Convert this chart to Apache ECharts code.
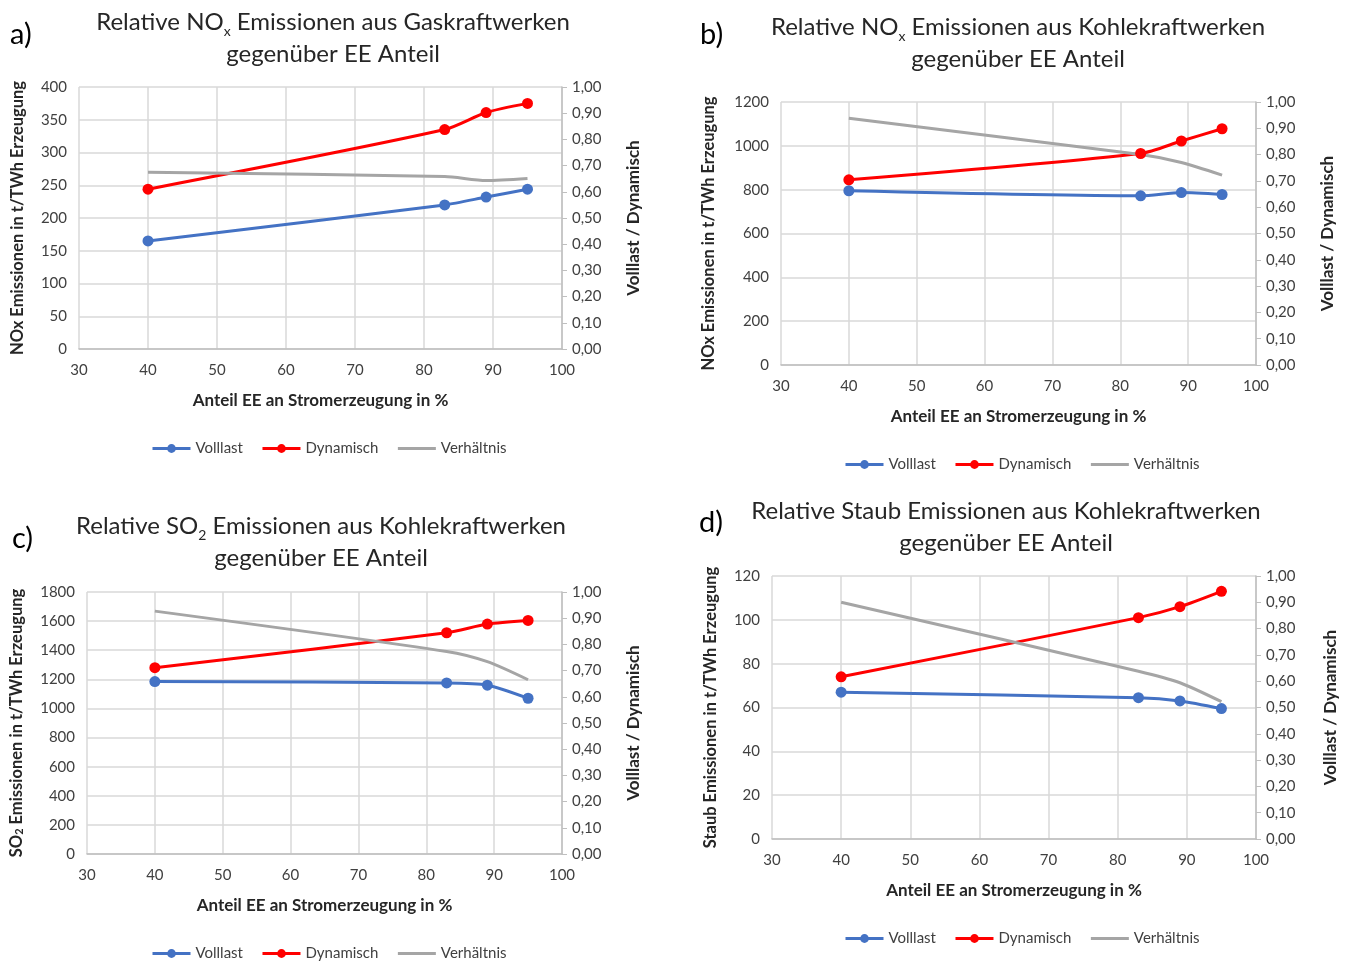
<!DOCTYPE html>
<html>
<head>
<meta charset="utf-8">
<script src="https://cdn.jsdelivr.net/npm/echarts@6/dist/echarts.min.js"></script>
<style>
  html, body { margin: 0; padding: 0; background: #fff; }
  #chart { width: 1347px; height: 961px; }
</style>
</head>
<body>
<div id="chart"></div>
<script>
// Anteil EE an Stromerzeugung in %
const anteilEE = [40, 83, 89, 95];

// a) NOx Gaskraftwerke
const noxGasVolllast = [165, 220, 232, 244];
const noxGasDynamisch = [244, 335, 361, 375];
const noxGasVerhaeltnis = [0.675, 0.658, 0.643, 0.651];

// b) NOx Kohlekraftwerke
const noxKohleVolllast = [795, 772, 787, 778];
const noxKohleDynamisch = [845, 965, 1022, 1078];
const noxKohleVerhaeltnis = [0.938, 0.800, 0.770, 0.722];

// c) SO2 Kohlekraftwerke
const so2Volllast = [1185, 1175, 1160, 1070];
const so2Dynamisch = [1280, 1520, 1580, 1605];
const so2Verhaeltnis = [0.927, 0.773, 0.734, 0.665];

// d) Staub Kohlekraftwerke
const staubVolllast = [67, 64.5, 63, 59.5];
const staubDynamisch = [74, 101, 106, 113];
const staubVerhaeltnis = [0.900, 0.638, 0.594, 0.522];

// Achsen
const xTicks = { min: 30, max: 100, interval: 10 };
const rightTicks = { min: 0, max: 1, interval: 0.1 };

const FONT = 'Lato, "Open Sans", sans-serif';
const BLUE = '#4472C4', RED = '#FF0000', GREY = '#A5A5A5';

const panels = [
    {
        tag: 'a)', tagX: 10, tagY: 20,
        title: 'Relative NO{sub|x} Emissionen aus Gaskraftwerken\ngegenüber EE Anteil',
        titleX: 328, titleY: 1,
        yName: 'NOx Emissionen in t/TWh Erzeugung',
        grid: { left: 79, top: 87, width: 483, height: 262 },
        yMax: 400, yInt: 50, yGap: 53, rGap: 63,
        legendX: 146, legendY: 436,
        v: noxGasVolllast, d: noxGasDynamisch, r: noxGasVerhaeltnis
    },
    {
        tag: 'b)', tagX: 700, tagY: 20,
        title: 'Relative NO{sub|x} Emissionen aus Kohlekraftwerken\ngegenüber EE Anteil',
        titleX: 1013, titleY: 6,
        yName: 'NOx Emissionen in t/TWh Erzeugung',
        grid: { left: 781, top: 102, width: 475, height: 263 },
        yMax: 1200, yInt: 200, yGap: 64, rGap: 63,
        legendX: 839, legendY: 452,
        v: noxKohleVolllast, d: noxKohleDynamisch, r: noxKohleVerhaeltnis
    },
    {
        tag: 'c)', tagX: 12, tagY: 524,
        title: 'Relative SO{sub|2} Emissionen aus Kohlekraftwerken\ngegenüber EE Anteil',
        titleX: 316, titleY: 505,
        yName: 'SO{sub2|2} Emissionen in t/TWh Erzeugung',
        grid: { left: 87, top: 592, width: 475, height: 262 },
        yMax: 1800, yInt: 200, yGap: 62, rGap: 63,
        legendX: 146, legendY: 941,
        v: so2Volllast, d: so2Dynamisch, r: so2Verhaeltnis
    },
    {
        tag: 'd)', tagX: 699, tagY: 508,
        title: 'Relative Staub Emissionen aus Kohlekraftwerken\ngegenüber EE Anteil',
        titleX: 1001, titleY: 490,
        yName: 'Staub Emissionen in t/TWh Erzeugung',
        grid: { left: 772, top: 576, width: 484, height: 263 },
        yMax: 120, yInt: 20, yGap: 53, rGap: 66,
        legendX: 839, legendY: 926,
        v: staubVolllast, d: staubDynamisch, r: staubVerhaeltnis
    }
];

const pairs = arr => arr.map((y, i) => [anteilEE[i], y]);

const option = {
    animation: false,
    backgroundColor: '#fff',
    textStyle: { fontFamily: FONT },
    title: [],
    legend: [],
    grid: [],
    xAxis: [],
    yAxis: [],
    series: [],
    graphic: []
};

panels.forEach((p, i) => {
    const sp = ' '.repeat(i); // eindeutige Seriennamen je Diagramm
    option.title.push({
        text: p.title,
        left: p.titleX,
        top: p.titleY,
        textAlign: 'center',
        textStyle: {
            fontFamily: FONT, fontSize: 24, fontWeight: 'normal', color: '#262626', lineHeight: 32,
            rich: {
                sub: { fontFamily: FONT, fontSize: 14, color: '#262626', verticalAlign: 'bottom', lineHeight: 24 }
            }
        }
    });
    option.graphic.push({
        type: 'text', left: p.tagX, top: p.tagY,
        style: { text: p.tag, font: '29px ' + FONT, fill: '#000' }
    });
    option.grid.push(Object.assign({ containLabel: false }, p.grid));
    option.legend.push({
        left: p.legendX, top: p.legendY,
        itemWidth: 38, itemHeight: 11, itemGap: 18,
        lineStyle: { width: 3 },
        textStyle: { fontFamily: FONT, fontSize: 15, color: '#404040' },
        data: [
            { name: 'Volllast' + sp },
            { name: 'Dynamisch' + sp },
            { name: 'Verhältnis' + sp, itemStyle: { opacity: 0 } }
        ],
        formatter: n => n.trim()
    });
    option.xAxis.push({
        gridIndex: i, type: 'value',
        min: xTicks.min, max: xTicks.max, interval: xTicks.interval,
        name: 'Anteil EE an Stromerzeugung in %',
        nameLocation: 'middle', nameGap: 43,
        nameTextStyle: { fontFamily: FONT, fontSize: 17, fontWeight: 'bold', color: '#262626' },
        axisLine: { show: true, lineStyle: { color: '#BFBFBF', width: 1.5 } },
        axisTick: { show: false },
        axisLabel: { fontSize: 15, color: '#404040', margin: 14 },
        splitLine: { show: true, lineStyle: { color: '#D9D9D9', width: 1.5 } }
    });
    option.yAxis.push({
        gridIndex: i, type: 'value', position: 'left',
        min: 0, max: p.yMax, interval: p.yInt,
        name: p.yName,
        nameLocation: 'middle', nameGap: p.yGap,
        nameTextStyle: {
            fontFamily: FONT, fontSize: 16.5, fontWeight: 'bold', color: '#262626',
            rich: { sub2: { fontFamily: FONT, fontSize: 11, fontWeight: 'bold', color: '#262626', verticalAlign: 'bottom' } }
        },
        axisLine: { show: false },
        axisTick: { show: false },
        axisLabel: { fontSize: 15, color: '#404040', margin: 12, formatter: v => String(v) },
        splitLine: { show: true, lineStyle: { color: '#D9D9D9', width: 1.5 } }
    });
    option.yAxis.push({
        gridIndex: i, type: 'value', position: 'right',
        min: rightTicks.min, max: rightTicks.max, interval: rightTicks.interval,
        name: 'Volllast / Dynamisch',
        nameLocation: 'middle', nameGap: p.rGap,
        nameTextStyle: { fontFamily: FONT, fontSize: 17, fontWeight: 'bold', color: '#262626' },
        axisLine: { show: true, lineStyle: { color: '#BFBFBF', width: 1.5 } },
        axisTick: { show: true, length: 5, lineStyle: { color: '#BFBFBF' } },
        axisLabel: {
            fontSize: 15, color: '#404040', margin: 10,
            formatter: v => v.toFixed(2).replace('.', ',')
        },
        splitLine: { show: false }
    });
    option.series.push({
        name: 'Volllast' + sp, type: 'line', xAxisIndex: i, yAxisIndex: 2 * i,
        data: pairs(p.v), smooth: 0.25,
        symbol: 'circle', symbolSize: 11,
        lineStyle: { color: BLUE, width: 3 }, itemStyle: { color: BLUE }
    });
    option.series.push({
        name: 'Dynamisch' + sp, type: 'line', xAxisIndex: i, yAxisIndex: 2 * i,
        data: pairs(p.d), smooth: 0.25,
        symbol: 'circle', symbolSize: 11,
        lineStyle: { color: RED, width: 3 }, itemStyle: { color: RED }
    });
    option.series.push({
        name: 'Verhältnis' + sp, type: 'line', xAxisIndex: i, yAxisIndex: 2 * i + 1,
        data: pairs(p.r), smooth: 0.25,
        symbol: 'none', showSymbol: false,
        lineStyle: { color: GREY, width: 3 }, itemStyle: { color: GREY }
    });
});

const chart = echarts.init(document.getElementById('chart'));
chart.setOption(option);
window.addEventListener('resize', () => chart.resize());
</script>
</body>
</html>
